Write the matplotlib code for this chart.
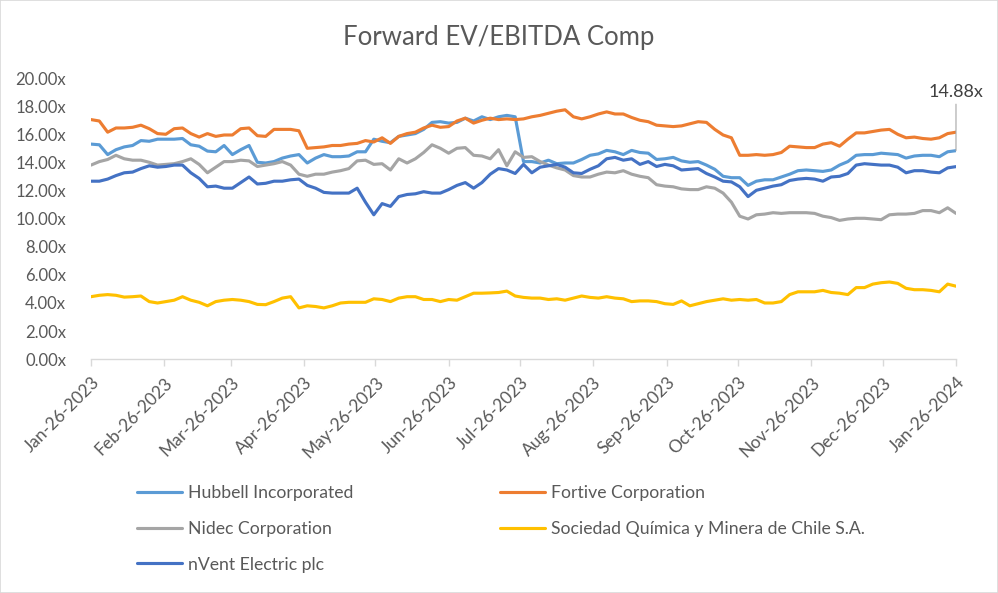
import pandas as pd
import matplotlib.pyplot as plt
from matplotlib.patches import Rectangle
from matplotlib.ticker import FuncFormatter, MultipleLocator

plt.rcParams['font.family'] = ['Lato', 'DejaVu Sans']

# -----------------------
# DATA (~twice a week)
# -----------------------
DATES = pd.date_range('2023-01-26', '2024-01-26', periods=105)

HUBBELL = [
    15.35, 15.3, 14.6, 14.95, 15.15, 15.25, 15.6, 15.55, 15.7, 15.7,
    15.7, 15.75, 15.3, 15.2, 14.85, 14.8, 15.25, 14.6, 14.95, 15.25,
    14.05, 14.0, 14.1, 14.35, 14.5, 14.6, 14.0, 14.35, 14.6, 14.45,
    14.45, 14.5, 14.8, 14.8, 15.7, 15.55, 15.45, 15.9, 16.0, 16.1,
    16.4, 16.9, 16.95, 16.85, 16.9, 17.2, 17.0, 17.3, 17.1, 17.3,
    17.4, 17.3, 14.1, 14.1, 14.0, 14.2, 13.95, 14.0, 14.0, 14.25,
    14.55, 14.65, 14.9, 14.8, 14.6, 14.9, 14.75, 14.7, 14.25, 14.3,
    14.4, 14.15, 14.05, 14.1, 13.85, 13.55, 13.05, 12.95, 12.95, 12.4,
    12.7, 12.8, 12.8, 13.0, 13.2, 13.45, 13.5, 13.45, 13.4, 13.5,
    13.85, 14.1, 14.55, 14.6, 14.6, 14.7, 14.65, 14.6, 14.35, 14.5,
    14.55, 14.55, 14.45, 14.8, 14.88,
]

FORTIVE = [
    17.1, 17.0, 16.2, 16.5, 16.5, 16.55, 16.7, 16.45, 16.1, 16.05,
    16.45, 16.5, 16.1, 15.85, 16.1, 15.9, 16.0, 16.0, 16.45, 16.5,
    15.95, 15.9, 16.4, 16.4, 16.4, 16.3, 15.05, 15.1, 15.15, 15.25,
    15.25, 15.35, 15.4, 15.6, 15.5, 15.8, 15.4, 15.9, 16.1, 16.2,
    16.5, 16.7, 16.55, 16.6, 17.0, 17.2, 16.85, 17.05, 17.2, 17.1,
    17.15, 17.1, 17.15, 17.3, 17.4, 17.55, 17.7, 17.8, 17.3, 17.15,
    17.3, 17.5, 17.65, 17.5, 17.5, 17.25, 17.05, 16.95, 16.7, 16.65,
    16.6, 16.65, 16.8, 16.95, 16.9, 16.4, 16.0, 15.8, 14.55, 14.55,
    14.6, 14.55, 14.6, 14.75, 15.2, 15.15, 15.1, 15.1, 15.35, 15.45,
    15.2, 15.7, 16.15, 16.15, 16.25, 16.35, 16.4, 16.05, 15.8, 15.85,
    15.75, 15.7, 15.8, 16.1, 16.2,
]

NIDEC = [
    13.85, 14.1, 14.25, 14.55, 14.3, 14.2, 14.2, 14.05, 13.85, 13.9,
    13.95, 14.1, 14.3, 13.9, 13.3, 13.7, 14.1, 14.1, 14.2, 14.15,
    13.75, 13.85, 13.95, 14.1, 13.85, 13.2, 13.05, 13.2, 13.2, 13.35,
    13.45, 13.6, 14.15, 14.2, 13.9, 13.95, 13.5, 14.3, 14.0, 14.3,
    14.75, 15.3, 15.05, 14.7, 15.05, 15.1, 14.55, 14.5, 14.3, 14.95,
    13.8, 14.8, 14.4, 14.45, 14.1, 13.85, 13.65, 13.5, 13.1, 13.0,
    13.0, 13.2, 13.35, 13.3, 13.45, 13.2, 13.05, 12.95, 12.45, 12.35,
    12.3, 12.15, 12.1, 12.1, 12.3, 12.2, 11.85, 11.2, 10.2, 10.0,
    10.3, 10.35, 10.45, 10.4, 10.45, 10.45, 10.45, 10.4, 10.2, 10.1,
    9.9, 10.0, 10.05, 10.05, 10.0, 9.95, 10.3, 10.35, 10.35, 10.4,
    10.6, 10.6, 10.45, 10.8, 10.4,
]

SQM = [
    4.45, 4.55, 4.6, 4.55, 4.42, 4.45, 4.5, 4.1, 4.0, 4.1,
    4.2, 4.45, 4.2, 4.05, 3.8, 4.1, 4.2, 4.25, 4.2, 4.1,
    3.9, 3.88, 4.1, 4.35, 4.45, 3.65, 3.8, 3.75, 3.65, 3.8,
    4.0, 4.05, 4.05, 4.05, 4.3, 4.25, 4.1, 4.35, 4.45, 4.45,
    4.25, 4.25, 4.1, 4.25, 4.2, 4.45, 4.7, 4.7, 4.72, 4.75,
    4.85, 4.5, 4.4, 4.35, 4.35, 4.25, 4.3, 4.2, 4.35, 4.5,
    4.4, 4.35, 4.45, 4.35, 4.3, 4.1, 4.15, 4.15, 4.1, 3.95,
    3.9, 4.15, 3.8, 3.95, 4.1, 4.2, 4.3, 4.2, 4.25, 4.2,
    4.25, 4.0, 4.0, 4.1, 4.6, 4.8, 4.8, 4.8, 4.9, 4.75,
    4.7, 4.6, 5.1, 5.1, 5.35, 5.45, 5.5, 5.4, 5.05, 4.95,
    4.95, 4.9, 4.8, 5.35, 5.2,
]

NVENT = [
    12.7, 12.7, 12.85, 13.1, 13.3, 13.35, 13.6, 13.8, 13.7, 13.75,
    13.85, 13.85, 13.3, 12.9, 12.3, 12.35, 12.2, 12.2, 12.6, 13.0,
    12.5, 12.55, 12.7, 12.7, 12.8, 12.85, 12.4, 12.2, 11.9, 11.85,
    11.85, 11.85, 12.2, 11.2, 10.3, 11.1, 10.9, 11.6, 11.75, 11.8,
    11.95, 11.85, 11.85, 12.1, 12.4, 12.6, 12.2, 12.6, 13.2, 13.6,
    13.5, 13.25, 13.9, 13.3, 13.7, 13.8, 13.9, 13.7, 13.3, 13.25,
    13.55, 13.8, 14.3, 14.4, 14.2, 14.3, 13.9, 14.1, 13.75, 13.9,
    13.8, 13.5, 13.55, 13.6, 13.25, 13.0, 12.7, 12.65, 12.3, 11.6,
    12.05, 12.2, 12.35, 12.45, 12.75, 12.85, 12.9, 12.85, 12.7, 13.0,
    13.05, 13.25, 13.85, 13.95, 13.9, 13.85, 13.85, 13.7, 13.3, 13.45,
    13.45, 13.35, 13.3, 13.65, 13.74,
]

SERIES = [
    ('Hubbell Incorporated', HUBBELL, '#5B9BD5'),
    ('Fortive Corporation', FORTIVE, '#ED7D31'),
    ('Nidec Corporation', NIDEC, '#A5A5A5'),
    ('Sociedad Química y Minera de Chile S.A.', SQM, '#FFC000'),
    ('nVent Electric plc', NVENT, '#4472C4'),
]

TEXT_GREY = '#595959'

# -----------------------
# FIGURE
# -----------------------
fig = plt.figure(figsize=(9.98, 5.93), dpi=100)
ax = fig.add_axes([0.0912, 0.3946, 0.8667, 0.4722])

lines = {}
for name, vals, col in SERIES:
    ln, = ax.plot(DATES, vals, color=col, lw=2.25, label=name,
                  solid_joinstyle='round', solid_capstyle='round')
    lines[name] = ln

ax.set_xlim(DATES[0], DATES[-1])
ax.set_ylim(0, 20)

# axes styling
for side in ('top', 'right', 'left'):
    ax.spines[side].set_visible(False)
ax.spines['bottom'].set_color('#D9D9D9')
ax.spines['bottom'].set_linewidth(1)

ax.yaxis.set_major_locator(MultipleLocator(2))
ax.yaxis.set_major_formatter(FuncFormatter(lambda v, p: f"{v:.2f}x"))
ax.tick_params(axis='y', length=0, labelsize=12, labelcolor=TEXT_GREY, pad=18)

month_ticks = pd.date_range('2023-01-26', '2024-01-26', freq=pd.DateOffset(months=1))
ax.set_xticks(month_ticks)
ax.set_xticklabels([d.strftime('%b-%d-%Y') for d in month_ticks],
                   rotation=45, ha='right', va='top', rotation_mode='anchor')
ax.tick_params(axis='x', length=5, color='#D9D9D9', width=1,
               labelsize=12.5, labelcolor=TEXT_GREY, pad=6)

# data label on last Hubbell point
ax.annotate(f"{HUBBELL[-1]:.2f}x", xy=(DATES[-1], HUBBELL[-1]),
            xytext=(DATES[-1], 19.07), ha='center', va='center',
            fontsize=13, color='#404040', annotation_clip=False,
            arrowprops=dict(arrowstyle='-', color='#A6A6A6', lw=0.8,
                            shrinkA=1, shrinkB=0))

fig.text(0.5, 0.936, 'Forward EV/EBITDA Comp', ha='center', va='center',
         fontsize=18.5, color=TEXT_GREY)

# legend: column-major fill, so order gives two columns
order = ['Hubbell Incorporated', 'Nidec Corporation', 'nVent Electric plc',
         'Fortive Corporation', 'Sociedad Química y Minera de Chile S.A.']
leg = fig.legend([lines[n] for n in order], order,
                 loc='upper left', bbox_to_anchor=(137 / 998, 1 - 485 / 593),
                 ncol=2, frameon=False, fontsize=12.7, handlelength=2.56,
                 handletextpad=0.35, columnspacing=8.3, labelspacing=1.12,
                 borderpad=0, borderaxespad=0)
for t in leg.get_texts():
    t.set_color(TEXT_GREY)

# chart border
fig.patches.append(Rectangle((0.0005, 0.0008), 0.999, 0.9984,
                             transform=fig.transFigure, fill=False,
                             edgecolor='#D9D9D9', lw=1.2))

fig.savefig('out.png', dpi=100)
